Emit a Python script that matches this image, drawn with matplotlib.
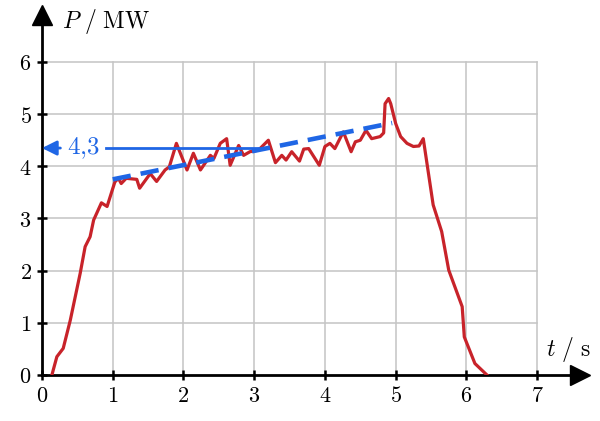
import matplotlib
matplotlib.use("Agg")
import matplotlib.pyplot as plt

plt.rcParams["mathtext.fontset"] = "cm"
plt.rcParams["font.family"] = ["DejaVu Serif"]

# --- data ---
t = [0.14, 0.21, 0.30, 0.40, 0.54, 0.61, 0.68, 0.73, 0.84, 0.92,
     1.03, 1.08, 1.12, 1.19, 1.34, 1.38, 1.53, 1.62, 1.74, 1.80,
     1.90, 2.05, 2.14, 2.24, 2.38, 2.43, 2.52, 2.61, 2.66, 2.78,
     2.85, 2.94, 3.06, 3.20, 3.30, 3.39, 3.45, 3.53, 3.64, 3.70,
     3.77, 3.92, 4.00, 4.07, 4.14, 4.26, 4.37, 4.43, 4.50, 4.58,
     4.66, 4.78, 4.83, 4.85, 4.90, 4.93, 5.00, 5.07, 5.16, 5.25,
     5.33, 5.39, 5.53, 5.65, 5.75, 5.94, 5.97, 6.12, 6.29]
power = [0.0, 0.35, 0.51, 1.05, 1.95, 2.46, 2.65, 2.97, 3.30, 3.23,
         3.70, 3.77, 3.67, 3.77, 3.75, 3.58, 3.86, 3.71, 3.93, 3.99,
         4.44, 3.93, 4.25, 3.93, 4.21, 4.15, 4.44, 4.53, 4.02, 4.40,
         4.21, 4.28, 4.31, 4.50, 4.07, 4.21, 4.12, 4.28, 4.10, 4.33,
         4.34, 4.02, 4.38, 4.44, 4.34, 4.66, 4.28, 4.47, 4.50, 4.69,
         4.53, 4.57, 4.64, 5.20, 5.30, 5.20, 4.82, 4.57, 4.44, 4.38,
         4.39, 4.53, 3.26, 2.75, 2.01, 1.31, 0.73, 0.22, 0.0]

trend_t = [1.0, 4.95]
trend_p = [3.75, 4.83]

mean_p = 4.35
mean_label = "4,3"

xticks = [0, 1, 2, 3, 4, 5, 6, 7]
yticks = [0, 1, 2, 3, 4, 5, 6]

red = "#c8232a"
blue = "#1f66e5"

fig = plt.figure(figsize=(6, 4.21), dpi=100)
ax = fig.add_axes([0.07, 0.1093, 0.896, 0.855])
ax.set_xlim(0, 7.6)
ax.set_ylim(0, 6.9)

# grid only inside the numbered range
for x in xticks[1:]:
    ax.plot([x, x], [0, yticks[-1]], color="#c4c4c4", lw=1.1, zorder=1)
for y in yticks[1:]:
    ax.plot([0, xticks[-1]], [y, y], color="#c4c4c4", lw=1.1, zorder=1)

ax.plot(t, power, color=red, lw=2.3, zorder=3)
ax.plot(trend_t, trend_p, color=blue, lw=3.3, dashes=(4, 2.2), zorder=4)

# mean arrow with label
ax.annotate("", xy=(0.0, mean_p), xytext=(0.26, mean_p),
            arrowprops=dict(arrowstyle="-|>", color=blue, lw=2.0,
                            mutation_scale=22, shrinkA=0, shrinkB=0),
            zorder=4)
ax.plot([0.9, 3.05], [mean_p, mean_p], color=blue, lw=2.0, zorder=4)
ax.text(0.58, mean_p, "$" + mean_label.replace(",", "{,}") + "$",
        color=blue, fontsize=18, ha="center", va="center")

# axes with arrow heads
for side in ["top", "right"]:
    ax.spines[side].set_visible(False)
for side in ["left", "bottom"]:
    ax.spines[side].set_linewidth(2)
ax.plot(1, 0, ">", color="black", markersize=15, transform=ax.get_yaxis_transform(),
        clip_on=False)
ax.plot(0, 1, "^", color="black", markersize=15, transform=ax.get_xaxis_transform(),
        clip_on=False)

ax.set_xticks(xticks)
ax.set_yticks(yticks)
ax.set_xticklabels(["$%d$" % v for v in xticks], fontsize=16)
ax.set_yticklabels(["$%d$" % v for v in yticks], fontsize=16)
ax.tick_params(direction="inout", length=7, width=1.8, pad=4)

ax.text(0.28, 6.5, r"$P\ /\ \mathrm{MW}$", fontsize=17, ha="left", va="bottom")
ax.text(7.12, 0.22, r"$t\ /\ \mathrm{s}$", fontsize=17, ha="left", va="bottom")

fig.savefig("out.png", dpi=100)
